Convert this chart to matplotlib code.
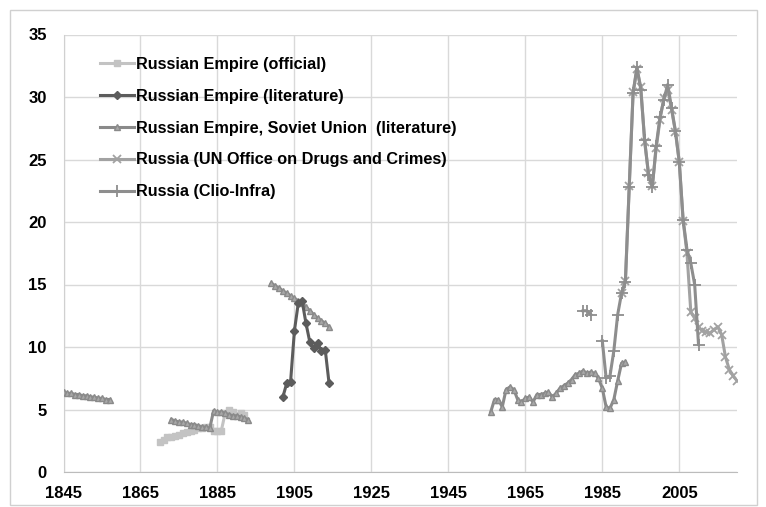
import numpy as np
import matplotlib
matplotlib.use("Agg")
import matplotlib.pyplot as plt
from matplotlib.patches import Rectangle

nan = np.nan

# Russian Empire (official)
official_years = list(range(1870, 1893))
official_vals = [2.4, 2.6, 2.8, 2.8, 2.9, 3.0, 3.1, 3.2, 3.3, 3.4, 3.5, 3.5,
                 3.6, 3.6, 3.3, 3.3, 3.3, 4.7, 5.0, 4.8, 4.6, 4.7, 4.6]

# Russian Empire (literature)
lit_years = list(range(1902, 1915))
lit_vals = [6.0, 7.1, 7.2, 11.3, 13.5, 13.7, 11.9, 10.4, 9.9, 10.3, 9.7, 9.8, 7.1]

# Russian Empire, Soviet Union (literature)  -- NaN marks gaps
soviet_years = (list(range(1845, 1858)) + [1865] + list(range(1873, 1894)) + [1896]
                + list(range(1899, 1915)) + [1930] + list(range(1956, 1992)))
soviet_vals = ([6.4, 6.3, 6.3, 6.2, 6.2, 6.1, 6.1, 6.0, 6.0, 5.9, 5.9, 5.8, 5.8]
               + [nan]
               + [4.2, 4.1, 4.0, 4.0, 3.9, 3.8, 3.8, 3.7, 3.6, 3.6, 3.5,
                  4.9, 4.8, 4.8, 4.7, 4.6, 4.5, 4.5, 4.4, 4.3, 4.2]
               + [nan]
               + [15.1, 14.9, 14.7, 14.5, 14.3, 14.1, 13.9, 13.7, 13.5, 13.2,
                  12.9, 12.6, 12.3, 12.1, 11.9, 11.6]
               + [nan]
               + [4.8, 5.8, 5.8, 5.2, 6.6, 6.8, 6.6, 5.8, 5.6, 5.9, 6.0, 5.6,
                  6.2, 6.2, 6.3, 6.4, 6.0, 6.3, 6.7, 6.9, 7.1, 7.4, 7.8, 7.9,
                  8.1, 7.9, 8.0, 7.9, 7.5, 6.7, 5.2, 5.1, 5.8, 7.3, 8.7, 8.8])

# Russia (UN Office on Drugs and Crimes)
unodc_years = list(range(1990, 2021))
unodc_vals = [14.3, 15.3, 22.9, 30.4, 32.2, 30.8, 26.4, 23.9, 22.9, 25.9, 28.2,
              29.9, 30.6, 29.0, 27.2, 24.8, 20.1, 17.5, 12.8, 12.3, 11.6, 11.3,
              11.2, 11.1, 11.4, 11.6, 11.0, 9.2, 8.2, 7.7, 7.3]

# Russia (Clio-Infra)
clio_years = [1980, 1981, 1982, 1983] + list(range(1985, 2011))
clio_vals = [12.9, 12.9, 12.6, nan,
             10.5, 7.5, 7.7, 9.7, 12.6, 14.3, 15.2, 22.8, 30.3, 32.4, 30.6,
             26.6, 23.8, 22.8, 26.1, 28.4, 29.8, 31.0, 29.1, 27.3, 24.8, 20.2,
             17.8, 16.7, 15.0, 10.2]

labels = ["Russian Empire (official)",
          "Russian Empire (literature)",
          "Russian Empire, Soviet Union  (literature)",
          "Russia (UN Office on Drugs and Crimes)",
          "Russia (Clio-Infra)"]

x_ticks = list(range(1845, 2006, 20))
y_ticks = list(range(0, 36, 5))

plt.rcParams['font.family'] = ['Liberation Sans', 'DejaVu Sans']
plt.rcParams['font.weight'] = 'bold'

fig = plt.figure(figsize=(7.66, 5.07), dpi=100)
W, H = 766, 507
ax = fig.add_axes([63.5 / W, (H - 472) / H, (737 - 63.5) / W, (472 - 34.5) / H])

fig.patches.append(Rectangle((10 / W, 2 / H), (757 - 10) / W, (497 - 2) / H,
                             transform=fig.transFigure, fill=False,
                             edgecolor='#d0d0d0', linewidth=1.0))

lw = 2.2
ax.plot(official_years, official_vals, color='#c3c3c3', lw=lw, marker='s',
        ms=4.5, label=labels[0], zorder=3)
ax.plot(soviet_years, soviet_vals, color='#8a8a8a', lw=lw, marker='^',
        ms=5, mfc='#a8a8a8', mec='#8a8a8a', label=labels[2], zorder=4)
ax.plot(lit_years, lit_vals, color='#5c5c5c', lw=lw, marker='D',
        ms=4.5, label=labels[1], zorder=5)
ax.plot(unodc_years, unodc_vals, color='#a2a2a2', lw=lw, marker='x',
        ms=6, mew=1.3, label=labels[3], zorder=4)
ax.plot(clio_years, clio_vals, color='#8e8e8e', lw=lw, marker='+',
        ms=9, mew=1.3, label=labels[4], zorder=4)

ax.set_xlim(1845, 2020)
ax.set_ylim(0, 35)
ax.set_xticks(x_ticks)
ax.set_yticks(y_ticks)
ax.grid(True, color='#d9d9d9', linewidth=1.0)
ax.set_axisbelow(True)
for s in ['top', 'right']:
    ax.spines[s].set_visible(False)
ax.spines['left'].set_color('#d0d0d0')
ax.spines['bottom'].set_color('#bcbcbc')
ax.tick_params(axis='both', length=0, labelsize=12)
ax.tick_params(axis='y', pad=12)
ax.tick_params(axis='x', pad=10)
for t in ax.get_xticklabels() + ax.get_yticklabels():
    t.set_fontweight('bold')

handles, labs = ax.get_legend_handles_labels()
order = [labs.index(l) for l in labels]
leg = ax.legend([handles[i] for i in order], [labs[i] for i in order],
                loc='upper left', bbox_to_anchor=(0.044, 0.964), frameon=False,
                prop={'weight': 'bold', 'size': 11.7}, handlelength=2.1,
                handletextpad=0.15, labelspacing=1.04, borderaxespad=0)

fig.savefig("out.png", dpi=100, facecolor='white')
